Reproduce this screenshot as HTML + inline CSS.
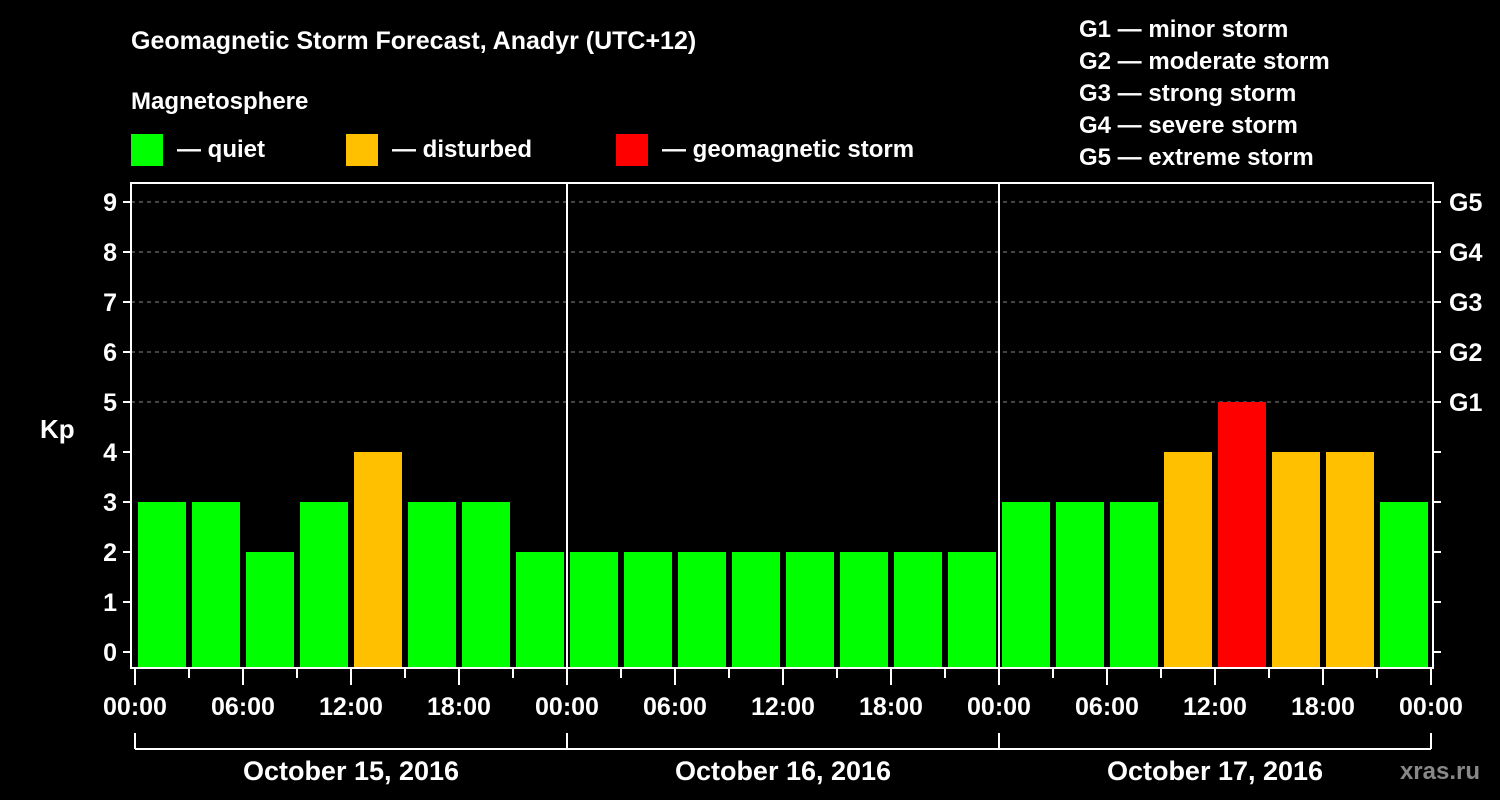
<!DOCTYPE html>
<html><head><meta charset="utf-8"><style>
html,body{margin:0;padding:0;background:#000;}
svg{display:block;font-family:"Liberation Sans",Arial,sans-serif;font-weight:bold;}
</style></head><body>
<svg id="chart" width="1500" height="800" viewBox="0 0 1500 800">
<rect x="0" y="0" width="1500" height="800" fill="#000"/>
<text x="131" y="49" fill="#fff" font-size="25">Geomagnetic Storm Forecast, Anadyr (UTC+12)</text>
<text x="131" y="109" fill="#fff" font-size="24">Magnetosphere</text>
<g><rect x="131" y="134" width="32" height="32" fill="#00ff00"/><text x="177" y="157" fill="#fff" font-size="24">— quiet</text></g>
<g><rect x="346" y="134" width="32" height="32" fill="#ffc000"/><text x="392" y="157" fill="#fff" font-size="24">— disturbed</text></g>
<g><rect x="616" y="134" width="32" height="32" fill="#ff0000"/><text x="662" y="157" fill="#fff" font-size="24">— geomagnetic storm</text></g>
<g fill="#fff" font-size="24">
<text x="1079" y="37">G1 — minor storm</text>
<text x="1079" y="69">G2 — moderate storm</text>
<text x="1079" y="101">G3 — strong storm</text>
<text x="1079" y="133">G4 — severe storm</text>
<text x="1079" y="165">G5 — extreme storm</text>
</g>
<text x="40" y="438" fill="#fff" font-size="26">Kp</text>
<text x="1480" y="779" fill="#888" font-size="24" text-anchor="end">xras.ru</text>
<g id="plot"></g>
</svg>
<script>
const kpValues=[3,3,2,3,4,3,3,2, 2,2,2,2,2,2,2,2, 3,3,3,4,5,4,4,3];
const timeLabels=["00:00","06:00","12:00","18:00"];
const dayLabels=["October 15, 2016","October 16, 2016","October 17, 2016"];
const gLabels=["G1","G2","G3","G4","G5"];
const kpTicks=[0,1,2,3,4,5,6,7,8,9];

const NS="http://www.w3.org/2000/svg";
const g=document.getElementById('plot');
const L=131,R=1433,T=183,B=668,X0=135,slotW=54;
const xS=i=>X0+i*slotW;
const yS=v=>652-50*v;
function mk(tag,attrs,parent){const e=document.createElementNS(NS,tag);for(const k in attrs)e.setAttribute(k,attrs[k]);(parent||g).appendChild(e);return e;}
function color(v){return v>=5?'#ff0000':(v>=4?'#ffc000':'#00ff00');}

// grid lines
[5,6,7,8,9].forEach(v=>{
 const l=mk('line',{x1:L,x2:R,y1:yS(v),y2:yS(v),stroke:'#888','stroke-width':1,'stroke-dasharray':'4,4'});
 
 
});
// bars
kpValues.forEach((v,i)=>{
 const b=mk('rect',{x:xS(i)+3,y:yS(v),width:48,height:B-yS(v),fill:color(v)});
 
 
});
// day separators
[1,2].forEach(d=>{
 const l=mk('line',{x1:xS(d*8),x2:xS(d*8),y1:T,y2:B,stroke:'#fff','stroke-width':2});
 
 
});
// frame
const fr=mk('rect',{x:L,y:T,width:R-L,height:B-T,fill:'none',stroke:'#fff','stroke-width':2});


// y ticks
kpTicks.forEach(v=>{
 mk('line',{x1:L-8,x2:L,y1:yS(v),y2:yS(v),stroke:'#fff','stroke-width':2});
 mk('line',{x1:R,x2:R+8,y1:yS(v),y2:yS(v),stroke:'#fff','stroke-width':2});
 const t=mk('text',{x:L-14,y:yS(v)+9,fill:'#fff','font-size':25,'text-anchor':'end'});
 t.textContent=v;
 
 
});
gLabels.forEach((s,i)=>{
 const t=mk('text',{x:1449,y:yS(5+i)+9,fill:'#fff','font-size':25});
 t.textContent=s;
 
 
});
// x ticks
for(let i=0;i<=kpValues.length;i++){
 const major=i%2===0;
 mk('line',{x1:xS(i),x2:xS(i),y1:B,y2:major?685:678,stroke:'#fff','stroke-width':2});
 if(major){
  const t=mk('text',{x:xS(i),y:715,fill:'#fff','font-size':25,'text-anchor':'middle'});
  t.textContent=timeLabels[(i/2)%4];
  
  
 }
}
// day brackets
mk('line',{x1:xS(0),x2:xS(24),y1:749,y2:749,stroke:'#fff','stroke-width':2});
for(let d=0;d<=3;d++) mk('line',{x1:xS(d*8),x2:xS(d*8),y1:733,y2:749,stroke:'#fff','stroke-width':2});
dayLabels.forEach((s,d)=>{
 const t=mk('text',{x:xS(d*8+4),y:780,fill:'#fff','font-size':27,'text-anchor':'middle'});
 t.textContent=s;
 
 
});
</script>
</body></html>
